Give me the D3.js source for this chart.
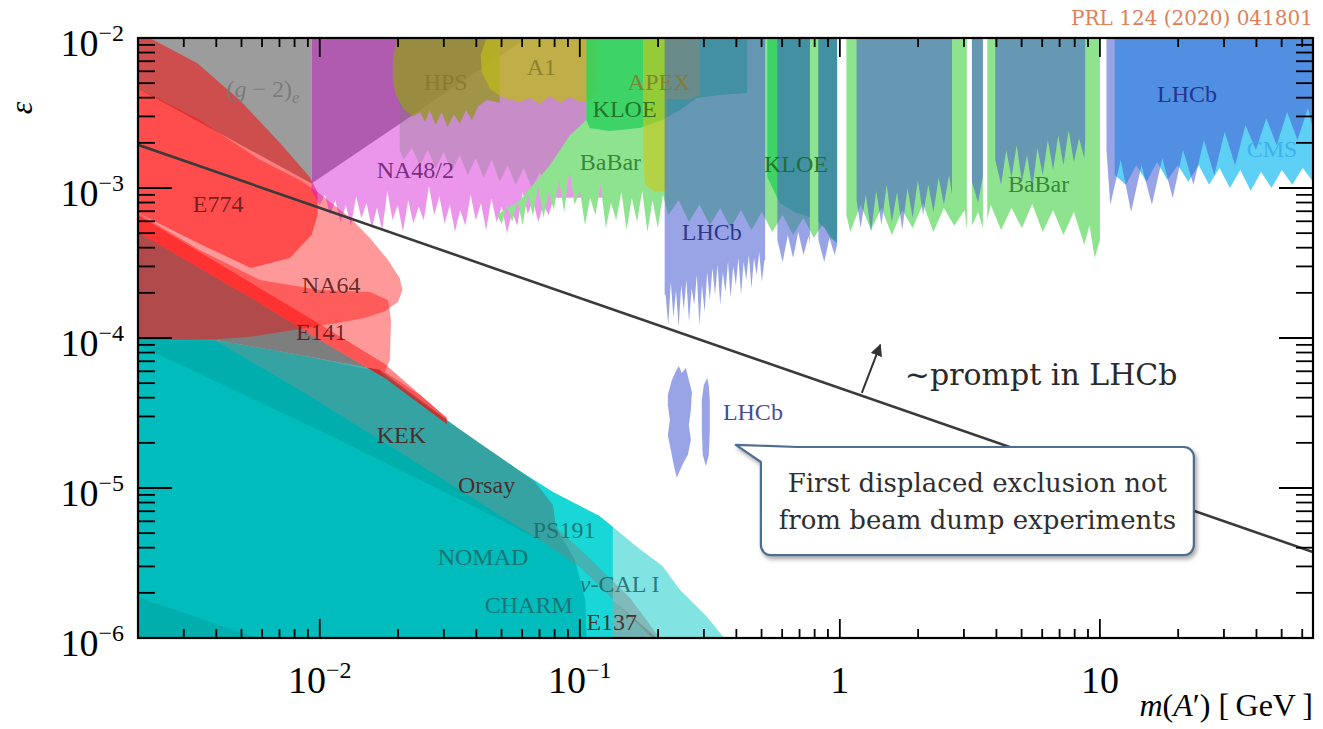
<!DOCTYPE html>
<html>
<head>
<meta charset="utf-8">
<script src="https://cdn.jsdelivr.net/npm/d3@7/dist/d3.min.js"></script>
<style>
html,body{margin:0;padding:0;background:#fff;}
svg{display:block;}
</style>
</head>
<body>
<svg id="chart" width="1323" height="729"></svg>
<script>
// ================= DATA (mass in GeV, epsilon) =================
const massDomain = [0.002, 66];
const epsDomain = [1e-6, 1e-2];

const xTickVals = [0.01, 0.1, 1, 10];
const xTickBase = ["10", "10", "1", "10"];
const xTickExp = ["\u22122", "\u22121", "", ""];
const yTickVals = [1e-2, 1e-3, 1e-4, 1e-5, 1e-6];
const yTickExp = ["\u22122", "\u22123", "\u22124", "\u22125", "\u22126"];

// (g-2)_e and other gray regions
const gTop = [[0.002,0.01],[0.0093,0.01],[0.0093,1.07e-3],[0.002,4.6e-3]];
const gDiag = [[0.0093,0.01],[0.0625,0.01],[0.0093,1.07e-3]];
const gLow = [[0.002,5.09e-4],[0.00345,2.93e-4],[0.00588,1.71e-4],[0.01,9.7e-5],[0.0178,5.41e-5],[0.017,6.12e-5],[0.00838,7.7e-5],[0.00398,9.7e-5],[0.002,1e-4]];
const gBand = [[0.002,5.09e-4],[0.00345,2.93e-4],[0.00588,1.71e-4],[0.01,9.7e-5],[0.0178,5.41e-5],[0.0308,2.84e-5],[0.0492,1.61e-5],[0.0671,1.1e-5],[0.0788,7.7e-6],[0.0809,5.5e-6],[0.109,3.41e-6],[0.156,1.85e-6],[0.203,1e-6],[0.19,1e-6],[0.1,2.97e-6],[0.0702,4.5e-6],[0.0492,6.6e-6],[0.0203,1.74e-5],[0.00838,4.5e-5],[0.00398,9.55e-5],[0.002,1e-4]];
const e137 = [[0.134,1.79e-6],[0.198,1e-6],[0.134,1e-6]];

// beam dump (teal) regions
const tealPale = [[0.002,1e-4],[0.00398,9.7e-5],[0.00838,7.7e-5],[0.017,6.12e-5],[0.0308,2.84e-5],[0.0492,1.58e-5],[0.0788,9.4e-6],[0.119,6.5e-6],[0.134,5.5e-6],[0.17,3.92e-6],[0.208,3.02e-6],[0.243,2.09e-6],[0.309,1.38e-6],[0.359,1e-6],[0.002,1e-6]];
const tealBright = [[0.002,1e-4],[0.00398,9.7e-5],[0.00838,7.7e-5],[0.017,6.12e-5],[0.0308,2.84e-5],[0.0492,1.58e-5],[0.0788,9.4e-6],[0.119,6.5e-6],[0.134,5.5e-6],[0.134,1e-6],[0.002,1e-6]];
const tealMain = [[0.002,1e-4],[0.00398,9.7e-5],[0.00838,7.7e-5],[0.017,5.93e-5],[0.0308,2.8e-5],[0.0492,1.61e-5],[0.0671,1.1e-5],[0.0788,7.7e-6],[0.0809,5.5e-6],[0.0958,3.31e-6],[0.105,1.79e-6],[0.106,1e-6],[0.002,1e-6]];
const tealWedge = [[0.002,9.7e-5],[0.00398,9.55e-5],[0.00838,4.5e-5],[0.0203,1.74e-5],[0.0492,6.6e-6],[0.0702,4.5e-6],[0.0381,7.7e-6],[0.0203,1.32e-5],[0.01045,2.33e-5],[0.00451,4.64e-5],[0.002,8.99e-5]];
const tealCorner = [[0.002,1.88e-6],[0.002,1e-6],[0.00573,1e-6]];

// red regions (E774, NA64, E141)
const redE774 = [[0.002,0.01],[0.00222,0.01],[0.00337,6.81e-3],[0.00492,3.86e-3],[0.00702,2.0e-3],[0.00916,1.18e-3],[0.0098,9.4e-4],[0.00982,6.6e-4],[0.0093,4.86e-4],[0.00767,3.41e-4],[0.00543,2.93e-4],[0.0034,4.3e-4],[0.002,6.81e-4]];
const redNA64 = [[0.002,4.64e-3],[0.00345,2.84e-3],[0.00588,1.54e-3],[0.00838,1.13e-3],[0.0098,9.4e-4],[0.013,6.41e-4],[0.0156,4.64e-4],[0.0183,3.31e-4],[0.0203,2.51e-4],[0.0208,2.09e-4],[0.02,1.74e-4],[0.0178,1.51e-4],[0.0149,1.36e-4],[0.0117,1.26e-4],[0.00543,1.02e-4],[0.00361,9.7e-5],[0.002,9.7e-5]];
const redE141 = [[0.002,6.81e-4],[0.00345,3.86e-4],[0.00588,2.44e-4],[0.01,2.09e-4],[0.0156,2.03e-4],[0.0183,1.79e-4],[0.0188,1.32e-4],[0.0186,7.13e-5],[0.0178,5.93e-5],[0.0243,4.17e-5],[0.0308,2.93e-5],[0.0308,2.67e-5],[0.0178,5.41e-5],[0.01,9.7e-5],[0.00588,1.71e-4],[0.00345,2.93e-4],[0.002,5.09e-4]];
const redStrip = [[0.002,6.6e-4],[0.00345,3.74e-4],[0.00588,2.15e-4],[0.01,1.24e-4],[0.0178,6.71e-5],[0.0308,2.93e-5],[0.0308,2.67e-5],[0.0178,5.41e-5],[0.01,9.7e-5],[0.00588,1.71e-4],[0.00345,2.93e-4],[0.002,5.09e-4]];

// NA48/2 lower edge
const na48Edge = [[0.0093,9.6e-4],[0.0100,7.7e-4],[0.01047,9.0e-4],[0.01096,6.6e-4],[0.01148,8.3e-4],[0.01202,5.9e-4],[0.01259,7.7e-4],[0.01318,5.6e-4],[0.0138,8.8e-4],[0.01445,6.3e-4],[0.01514,7.9e-4],[0.01585,5.4e-4],[0.0166,7.4e-4],[0.01738,5.2e-4],[0.0182,9.6e-4],[0.01905,6.1e-4],[0.01995,7.7e-4],[0.02089,5.1e-4],[0.02188,8.3e-4],[0.02291,5.8e-4],[0.02399,7.5e-4],[0.02512,6.1e-4],[0.0263,1.03e-3],[0.02754,6.6e-4],[0.02884,8.8e-4],[0.0302,5.8e-4],[0.03162,7.7e-4],[0.03311,5.1e-4],[0.03467,7.1e-4],[0.03631,5.6e-4],[0.03802,9.0e-4],[0.03981,6.1e-4],[0.04169,7.9e-4],[0.04365,5.2e-4],[0.04571,8.5e-4],[0.04786,5.9e-4],[0.05012,7.5e-4],[0.05248,5.0e-4],[0.05495,6.9e-4],[0.05754,5.6e-4],[0.06026,9.4e-4],[0.0631,6.7e-4],[0.06607,8.3e-4],[0.06918,5.9e-4],[0.07244,7.7e-4],[0.07586,6.6e-4],[0.07943,8.6e-4],[0.13,8.6e-4]];
// gray overlay on NA48/2 (lower edge)
const mauveEdge = [[0.0203,1.79e-3],[0.021,1.54e-3],[0.0226,1.85e-3],[0.0243,1.42e-3],[0.026,1.79e-3],[0.0279,1.36e-3],[0.03,1.74e-3],[0.0322,1.28e-3],[0.0345,1.66e-3],[0.0371,1.22e-3],[0.0398,1.58e-3],[0.0427,1.17e-3],[0.0459,1.54e-3],[0.0492,1.1e-3],[0.0528,1.42e-3],[0.0567,1.05e-3],[0.0609,1.36e-3],[0.0654,1.0e-3],[0.0702,1.28e-3],[0.0754,9.4e-4],[0.0809,1.32e-3],[0.0862,1.0e-3],[0.0916,1.42e-3],[0.0982,1.05e-3],[0.1035,1.54e-3],[0.109,1.22e-3],[0.119,2.1e-3]];

// BaBar
const babarLeft = [[0.106,0.01],[0.106,2.84e-3],[0.0916,2.25e-3],[0.0767,1.42e-3],[0.0588,8.3e-4],[0.048,6.6e-4]];
const babar1Edge = [[0.05012,5.75e-4],[0.05248,7.74e-4],[0.05495,5.93e-4],[0.05754,8.3e-4],[0.06026,5.66e-4],[0.0631,9.0e-4],[0.06607,6.5e-4],[0.06918,1.03e-3],[0.07244,6.31e-4],[0.07586,9.4e-4],[0.07943,7.13e-4],[0.08318,1.13e-3],[0.0871,6.92e-4],[0.0912,1.32e-3],[0.0955,7.74e-4],[0.1,9.6e-4],[0.1047,5.66e-4],[0.1096,8.58e-4],[0.1148,6.6e-4],[0.1202,1.05e-3],[0.1259,5.41e-4],[0.1318,7.94e-4],[0.138,6.12e-4],[0.1445,9.4e-4],[0.1514,5.24e-4],[0.1585,8.58e-4],[0.166,5.93e-4],[0.1738,9.6e-4],[0.182,5.09e-4],[0.1905,8.3e-4],[0.1995,5.41e-4],[0.2089,9.0e-4],[0.2188,6.6e-4],[0.2399,8.3e-4],[0.263,5.93e-4],[0.2884,7.74e-4],[0.3162,5.66e-4],[0.3467,7.36e-4],[0.3802,5.41e-4],[0.4169,7.13e-4],[0.4571,5.24e-4],[0.5012,6.92e-4],[0.5495,5.09e-4],[0.6026,6.6e-4],[0.6607,4.86e-4],[0.7244,6.31e-4],[0.7943,4.64e-4],[0.871,5.93e-4],[0.955,4.5e-4],[0.976,5.24e-4],[0.976,0.01]];
const babar2 = [[1.06,0.01],[1.06,6.6e-4],[1.0965,5.09e-4],[1.2023,7.74e-4],[1.3183,5.24e-4],[1.4454,7.36e-4],[1.5849,4.86e-4],[1.7378,7.13e-4],[1.9055,5.41e-4],[2.0893,7.82e-4],[2.2909,5.09e-4],[2.5119,7.36e-4],[2.7542,5.6e-4],[3.02,7.13e-4],[3.08,5.24e-4],[3.08,0.01]];
const babar3 = [[3.22,0.01],[3.22,5.6e-4],[3.4,6.9e-4],[3.55,5.4e-4],[3.55,0.01]];
const babar4 = [[3.69,0.01],[3.69,6.12e-4],[3.8019,7.74e-4],[4.1687,5.24e-4],[4.5709,7.36e-4],[5.0119,5.41e-4],[5.4954,7.82e-4],[6.0256,5.09e-4],[6.6069,7.13e-4],[7.2444,4.86e-4],[7.9433,6.92e-4],[8.7096,4.17e-4],[9.1201,5.66e-4],[9.5499,3.41e-4],[10.0,4.5e-4],[10.0,0.01]];

// HPS, A1, APEX, KLOE
const hps = [[0.0198,0.01],[0.0191,7.1e-3],[0.0191,5.2e-3],[0.0196,4.2e-3],[0.0209,3.4e-3],[0.0228,3.0e-3],[0.0243,3.2e-3],[0.0254,2.76e-3],[0.0265,3.3e-3],[0.0279,2.63e-3],[0.0294,3.2e-3],[0.031,2.55e-3],[0.0328,3.1e-3],[0.0345,2.68e-3],[0.0365,3.3e-3],[0.0385,2.84e-3],[0.0406,3.5e-3],[0.0438,3.86e-3],[0.0492,3.7e-3],[0.0492,0.01]];
const a1 = [[0.0438,0.01],[0.0416,7.7e-3],[0.042,5.9e-3],[0.0451,4.6e-3],[0.0506,4.0e-3],[0.0588,3.74e-3],[0.0642,3.98e-3],[0.0702,3.63e-3],[0.0767,4.1e-3],[0.0838,3.68e-3],[0.0916,4.04e-3],[0.1,3.74e-3],[0.109,3.86e-3],[0.115,4.37e-3],[0.117,5.66e-3],[0.117,0.01]];
const apex = [[0.175,0.01],[0.29,0.01],[0.29,4.2e-3],[0.265,3.9e-3],[0.216,3.9e-3],[0.216,9.6e-4],[0.195,9.4e-4],[0.178,1.05e-3],[0.175,1.8e-3]];
const kloe1 = [[0.106,0.01],[0.44,0.01],[0.44,4.3e-3],[0.345,4.17e-3],[0.282,3.98e-3],[0.243,3.31e-3],[0.208,2.84e-3],[0.17,2.51e-3],[0.13,2.4e-3],[0.109,2.51e-3],[0.106,2.84e-3]];
const kloe2 = [[0.526,0.01],[0.767,0.01],[0.767,6.4e-4],[0.671,6.9e-4],[0.588,7.9e-4],[0.526,1.18e-3]];
const kloe3 = [[0.827,0.01],[0.976,0.01],[0.976,4.3e-4],[0.916,4.7e-4],[0.875,5.4e-4],[0.827,5.9e-4]];

// CMS
const cms = [[11.4,0.01],[11.4,1.22e-3],[12.589,1.05e-3],[13.804,1.42e-3],[15.136,1.1e-3],[16.596,1.49e-3],[18.197,1.13e-3],[19.953,1.42e-3],[21.878,1.1e-3],[23.988,1.42e-3],[26.303,1.05e-3],[28.84,1.36e-3],[31.623,1.0e-3],[34.674,1.32e-3],[38.019,9.6e-4],[41.687,1.28e-3],[45.709,1.0e-3],[50.119,1.32e-3],[54.954,1.05e-3],[60.256,1.36e-3],[66,1.1e-3],[66,0.01]];

// LHCb prompt
const lhcb1 = [[0.212,0.01],[0.212,1.94e-4],[0.2138,1.94e-4],[0.2188,1.22e-4],[0.2239,2.36e-4],[0.2291,1.36e-4],[0.2344,2.09e-4],[0.2399,1.18e-4],[0.2455,2.25e-4],[0.2512,1.54e-4],[0.257,2.44e-4],[0.263,1.28e-4],[0.2692,2.15e-4],[0.2754,1.66e-4],[0.2818,2.63e-4],[0.2884,1.2e-4],[0.2951,2.25e-4],[0.302,1.49e-4],[0.309,2.75e-4],[0.3162,1.79e-4],[0.3236,2.93e-4],[0.3311,1.94e-4],[0.3388,3.07e-4],[0.3467,1.66e-4],[0.3548,2.75e-4],[0.3631,2.03e-4],[0.3715,3.21e-4],[0.3802,1.85e-4],[0.389,3.02e-4],[0.3981,2.25e-4],[0.4074,3.41e-4],[0.4169,1.94e-4],[0.4266,3.21e-4],[0.4365,2.44e-4],[0.4467,3.57e-4],[0.4571,2.15e-4],[0.4677,3.41e-4],[0.4786,2.63e-4],[0.4898,3.74e-4],[0.5012,2.36e-4],[0.5129,3.31e-4],[0.516,3.31e-4],[0.516,0.01]];
const lhcb2 = [[0.575,0.01],[0.575,4.5e-4],[0.6026,3.21e-4],[0.631,4.86e-4],[0.6607,3.41e-4],[0.6918,5.09e-4],[0.7244,3.57e-4],[0.7586,4.78e-4],[0.767,4.17e-4],[0.767,0.01]];
const lhcb3 = [[0.827,0.01],[0.827,4.5e-4],[0.871,3.21e-4],[0.912,4.64e-4],[0.955,3.57e-4],[0.976,4.17e-4],[0.976,0.01]];
const lhcb4 = [[1.16,0.01],[1.16,8.3e-4],[1.2023,5.41e-4],[1.2589,9.0e-4],[1.3183,5.09e-4],[1.3804,9.6e-4],[1.4454,5.66e-4],[1.5136,1.05e-3],[1.5849,5.93e-4],[1.6596,9.4e-4],[1.7378,5.24e-4],[1.8197,1.0e-3],[1.9055,6.31e-4],[1.9953,1.13e-3],[2.0893,6.6e-4],[2.1878,1.05e-3],[2.2909,6.92e-4],[2.3988,1.17e-3],[2.5119,7.74e-4],[2.6303,1.22e-3],[2.70,9.0e-4],[2.70,0.01]];
const lhcb5 = [[3.22,0.01],[3.22,1.1e-3],[3.4,8.0e-4],[3.55,1.2e-3],[3.55,0.01]];
const lhcb6 = [[3.96,0.01],[3.96,1.54e-3],[4.1687,1.05e-3],[4.3652,1.79e-3],[4.5709,1.17e-3],[4.7863,1.93e-3],[5.0119,1.1e-3],[5.2481,1.66e-3],[5.4954,1.0e-3],[5.7544,1.85e-3],[6.0256,1.22e-3],[6.3096,2.09e-3],[6.6069,1.32e-3],[6.9183,2.25e-3],[7.2444,1.42e-3],[7.5858,2.44e-3],[7.9433,1.49e-3],[8.3176,2.15e-3],[8.7096,1.58e-3],[8.78,2.09e-3],[8.78,0.01]];
const lhcb7 = [[10.6,0.01],[10.6,1.79e-3],[10.965,7.74e-4],[12.023,1.54e-3],[13.183,6.92e-4],[14.454,1.42e-3],[15.849,7.74e-4],[17.378,1.58e-3],[19.055,8.58e-4],[20.893,1.79e-3],[22.909,1.05e-3],[25.119,2.09e-3],[27.542,1.22e-3],[30.2,2.37e-3],[33.113,1.42e-3],[36.308,2.63e-3],[39.811,1.79e-3],[43.652,2.92e-3],[47.863,1.93e-3],[52.481,3.21e-3],[57.544,2.09e-3],[63.096,3.41e-3],[66,2.44e-3],[66,0.01]];
// LHCb displaced
const lhcbDispA = [[0.218,4.17e-5],[0.226,5.25e-5],[0.2334,5.93e-5],[0.2403,6.5e-5],[0.2467,5.85e-5],[0.2557,6.31e-5],[0.2626,5.25e-5],[0.2698,4.36e-5],[0.2673,3.31e-5],[0.2626,2.63e-5],[0.2673,2.09e-5],[0.2602,1.66e-5],[0.2512,1.49e-5],[0.243,1.32e-5],[0.236,1.17e-5],[0.2298,1.42e-5],[0.2239,1.79e-5],[0.218,2.25e-5],[0.222,2.84e-5],[0.218,3.57e-5]];
const lhcbDispB = [[0.2945,3.86e-5],[0.2999,4.86e-5],[0.309,5.41e-5],[0.3134,4.79e-5],[0.3162,3.86e-5],[0.3162,2.44e-5],[0.3134,1.66e-5],[0.3053,1.4e-5],[0.2971,1.66e-5],[0.2945,2.44e-5]];

// prompt line and arrow
const promptLineMass = [0.002, 66];
const promptLineEps = [1.94e-3, 3.74e-6];
const arrowFrom = [1.215, 4.3e-5];
const arrowTo = [1.43, 8.99e-5];
const promptText = "~prompt in LHCb";
const promptTextPos = [1.778, 4.86e-5];

// callout
const calloutMass = [0.497, 22.98];
const calloutEps = [1.876e-5, 3.57e-6];
const pointerTip = [0.398, 1.94e-5];
const pointerBase = [[0.497, 1.49e-5], [0.684, 1.876e-5]];
const calloutLines = ["First displaced exclusion not", "from beam dump experiments"];
const calloutTextMass = 3.38;
const calloutTextEps = [9.4e-6, 5.33e-6];

// region labels
const labelText = ["(*g* \u2212 2)_e","HPS","A1","APEX","KLOE","BaBar","NA48/2","LHCb","KLOE","BaBar","LHCb","CMS","E774","NA64","E141","KEK","Orsay","PS191","NOMAD","CHARM","*\u03bd*-CAL I","E137","LHCb"];
const labelMass = [0.00438,0.0251,0.0625,0.153,0.112,0.1,0.01655,0.2466,0.5105,4.43,16.6,36.7,0.00325,0.00853,0.0081,0.01655,0.034,0.0659,0.0284,0.0431,0.1,0.106,0.355];
const labelEps = [4.04e-3,4.5e-3,5.67e-3,4.5e-3,2.97e-3,1.32e-3,1.17e-3,4.5e-4,1.28e-3,9.4e-4,3.74e-3,1.61e-3,6.92e-4,2.0e-4,9.7e-5,2.0e-5,9.26e-6,4.64e-6,3.07e-6,1.47e-6,2.03e-6,1.13e-6,2.84e-5];

// ================= STYLES =================
const labelColor = ["#777777","#857a2c","#857a2c","#857a2c","#1c6a22","#2a7c30","#6c2070","#1c2a80","#1c6a22","#2a7c30","#1c2a80","#3aaeec","#6a1818","#5a1a1a","#5a1a1a","#4a1c1c","#4a1c1c","#1e6c6c","#1e6c6c","#1e6c6c","#1e6c6c","#4a1c1c","#2a3490"];
const LHCB_COL = "rgb(70,90,210)";
const layers = [
  [gTop, "#9c9c9c", 1],
  [gDiag, "#979797", 1],
  [tealPale, "#82e3e3", 1],
  [tealBright, "#19d7d7", 1],
  [tealMain, "#00bcbc", 1],
  [tealWedge, "#000000", 0.07],
  [tealCorner, "#000000", 0.07],
  [gLow, "#7c7c7c", 1],
  [gBand, "#808080", 0.42],
  [e137, "#5a5a5a", 0.35],
  [redE774, "#ff0000", 0.5],
  [redNA64, "#ff0000", 0.4],
  [redE141, "#ff0000", 0.4],
  [redStrip, "#ff0000", 0.45],
  [[[0.0093,0.01]].concat(na48Edge, [[0.13,0.01]]), "rgb(209,16,209)", 0.44],
  [[[0.0203,0.01]].concat(mauveEdge, [[0.119,0.01]]), "#787878", 0.3],
  [babarLeft.concat(babar1Edge), "#8ee38e", 1],
  [babar2, "#8ee38e", 1],
  [babar3, "#8ee38e", 1],
  [babar4, "#8ee38e", 1],
  [hps, "rgb(150,150,40)", 0.8],
  [a1, "rgb(190,185,30)", 0.75],
  [kloe1, "#30d060", 0.85],
  [kloe2, "#30d060", 0.85],
  [kloe3, "#30d060", 0.85],
  [apex, "rgb(207,198,23)", 0.6],
  [cms, "#5ed0f5", 1],
  [lhcb1, LHCB_COL, 0.55],
  [lhcb2, LHCB_COL, 0.55],
  [lhcb3, LHCB_COL, 0.55],
  [lhcb4, LHCB_COL, 0.55],
  [lhcb5, LHCB_COL, 0.55],
  [lhcb6, LHCB_COL, 0.55],
  [lhcb7, LHCB_COL, 0.55],
  [lhcbDispA, LHCB_COL, 0.55],
  [lhcbDispB, LHCB_COL, 0.55]
];

// ================= DRAW =================
const svg = d3.select("#chart");
const x = d3.scaleLog().domain(massDomain).range([138, 1313]);
const y = d3.scaleLog().domain(epsDomain).range([638, 38]);
const [X0, X1] = x.range();
const [Y1, Y0] = y.range();
const SERIF = "'Liberation Serif','Times New Roman',serif";
const PAL = "'DejaVu Serif','Liberation Serif',serif";

const defs = svg.append("defs");
defs.append("clipPath").attr("id", "plotclip").append("rect")
  .attr("x", X0).attr("y", Y0).attr("width", X1 - X0).attr("height", Y1 - Y0);
const filt = defs.append("filter").attr("id", "shadow").attr("x", "-10%").attr("y", "-10%").attr("width", "130%").attr("height", "150%");
filt.append("feDropShadow").attr("dx", 2).attr("dy", 3).attr("stdDeviation", 2).attr("flood-color", "#000").attr("flood-opacity", 0.35);
const mk = defs.append("marker").attr("id", "arrowhead").attr("viewBox", "0 0 10 10")
  .attr("refX", 9).attr("refY", 5).attr("markerWidth", 12).attr("markerHeight", 12)
  .attr("markerUnits", "userSpaceOnUse").attr("orient", "auto");
mk.append("path").attr("d", "M0,0 L10,5 L0,10 z").attr("fill", "#333");

const line = d3.line().x(d => x(d[0])).y(d => y(d[1]));

const plot = svg.append("g").attr("clip-path", "url(#plotclip)");
layers.forEach(([d, c, o]) => {
  plot.append("path").attr("d", line(d) + "Z").attr("fill", c).attr("fill-opacity", o).attr("stroke", "none");
});

// region labels with tiny markup: *italic*, _sub
function addRich(sel, str) {
  const parts = str.split(/(\*[^*]+\*|_[^\s]+)/).filter(s => s.length);
  parts.forEach(p => {
    const t = sel.append("tspan");
    if (p.startsWith("*")) { t.text(p.slice(1, -1)).attr("font-style", "italic"); }
    else if (p.startsWith("_")) { t.text(p.slice(1)).attr("font-style", "italic").attr("font-size", "0.68em").attr("dy", 6); }
    else { t.text(p); }
  });
}
labelText.forEach((s, i) => {
  const t = plot.append("text")
    .attr("x", x(labelMass[i])).attr("y", y(labelEps[i]))
    .attr("font-family", SERIF).attr("font-size", 24)
    .attr("fill", labelColor[i]).attr("fill-opacity", 0.9);
  addRich(t, s);
});

// prompt line
plot.append("path")
  .attr("d", line(promptLineMass.map((m, i) => [m, promptLineEps[i]])))
  .attr("stroke", "#3a3a3a").attr("stroke-width", 2.6).attr("fill", "none");

// arrow
svg.append("line")
  .attr("x1", x(arrowFrom[0])).attr("y1", y(arrowFrom[1]))
  .attr("x2", x(arrowTo[0])).attr("y2", y(arrowTo[1]))
  .attr("stroke", "#333").attr("stroke-width", 2).attr("marker-end", "url(#arrowhead)");
svg.append("text")
  .attr("x", x(promptTextPos[0])).attr("y", y(promptTextPos[1]))
  .attr("font-family", PAL).attr("font-size", 30).attr("fill", "#2a2a2a")
  .text(promptText);

// callout
(function () {
  const L = x(calloutMass[0]), R = x(calloutMass[1]);
  const T = y(calloutEps[0]), B = y(calloutEps[1]);
  const r = 10;
  const tip = [x(pointerTip[0]), y(pointerTip[1])];
  const p1 = [x(pointerBase[0][0]), y(pointerBase[0][1])];
  const p2 = [x(pointerBase[1][0]), y(pointerBase[1][1])];
  const p = d3.path();
  p.moveTo(p1[0], p1[1]);
  p.lineTo(tip[0], tip[1]);
  p.lineTo(p2[0], p2[1]);
  p.lineTo(R - r, T);
  p.arcTo(R, T, R, T + r, r);
  p.lineTo(R, B - r);
  p.arcTo(R, B, R - r, B, r);
  p.lineTo(L + r, B);
  p.arcTo(L, B, L, B - r, r);
  p.closePath();
  svg.append("path").attr("d", p.toString())
    .attr("fill", "#fff").attr("stroke", "#4f6d8c").attr("stroke-width", 2.2)
    .attr("stroke-linejoin", "round").attr("filter", "url(#shadow)");
  calloutLines.forEach((s, i) => {
    svg.append("text")
      .attr("x", x(calloutTextMass)).attr("y", y(calloutTextEps[i]))
      .attr("text-anchor", "middle").attr("font-family", PAL).attr("font-size", 26)
      .attr("fill", "#2e2e2e").text(s);
  });
})();

// frame and ticks
const isMajor = t => Math.abs(Math.log10(t) - Math.round(Math.log10(t))) < 1e-9;
const axes = svg.append("g").attr("stroke", "#000").attr("stroke-width", 1.8);
x.ticks().forEach(t => {
  const xp = x(t);
  if (xp <= X0 + 0.5 || xp >= X1 - 0.5) return;
  const L = isMajor(t) ? 19 : 9;
  axes.append("line").attr("x1", xp).attr("x2", xp).attr("y1", Y1).attr("y2", Y1 - L);
  axes.append("line").attr("x1", xp).attr("x2", xp).attr("y1", Y0).attr("y2", Y0 + L);
});
y.ticks().forEach(t => {
  const yp = y(t);
  if (yp <= Y0 + 0.5 || yp >= Y1 - 0.5) return;
  const L = isMajor(t) ? 34 : 17;
  axes.append("line").attr("x1", X0).attr("x2", X0 + L).attr("y1", yp).attr("y2", yp);
  axes.append("line").attr("x1", X1).attr("x2", X1 - L).attr("y1", yp).attr("y2", yp);
});
svg.append("rect").attr("x", X0).attr("y", Y0).attr("width", X1 - X0).attr("height", Y1 - Y0)
  .attr("fill", "none").attr("stroke", "#000").attr("stroke-width", 2.2);

// tick labels
yTickVals.forEach((v, i) => {
  const t = svg.append("text").attr("x", X0 - 14).attr("y", y(v) + 18)
    .attr("text-anchor", "end").attr("font-family", SERIF).attr("font-size", 38).attr("fill", "#000");
  t.append("tspan").text("10");
  t.append("tspan").attr("font-size", 24).attr("dy", -15).text(yTickExp[i]);
});
xTickVals.forEach((v, i) => {
  const t = svg.append("text").attr("x", x(v)).attr("y", 693)
    .attr("text-anchor", "middle").attr("font-family", SERIF).attr("font-size", 38).attr("fill", "#000");
  t.append("tspan").text(xTickBase[i]);
  if (xTickExp[i]) t.append("tspan").attr("font-size", 24).attr("dy", -15).text(xTickExp[i]);
});

// axis titles
const xt = svg.append("text").attr("x", X1).attr("y", 716).attr("text-anchor", "end")
  .attr("font-family", SERIF).attr("font-size", 32).attr("fill", "#000");
xt.append("tspan").attr("font-style", "italic").text("m");
xt.append("tspan").text("(");
xt.append("tspan").attr("font-style", "italic").text("A");
xt.append("tspan").text("\u2032) [\u2009GeV\u2009]");
svg.append("text").attr("transform", "translate(32,108) rotate(-90)")
  .attr("text-anchor", "middle").attr("font-family", SERIF).attr("font-style", "italic")
  .attr("font-size", 32).attr("fill", "#000").text("\u03b5");

// reference
svg.append("text").attr("x", X1).attr("y", 25).attr("text-anchor", "end")
  .attr("font-family", PAL).attr("font-size", 20).attr("fill", "#e0805a")
  .text("PRL 124 (2020) 041801");
</script>
</body>
</html>
